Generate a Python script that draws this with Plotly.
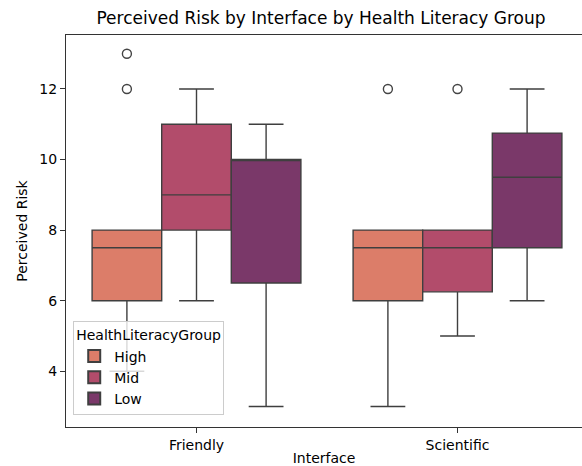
import plotly.graph_objects as go

# Perceived risk summary statistics by interface and health literacy group
interfaces = ["Friendly", "Scientific"]
groups = ["High", "Mid", "Low"]
colors = ["#DC7D69", "#B24C6B", "#7A3869"]

# per group: values for [Friendly, Scientific]
q1 = {"High": [6, 6], "Mid": [8, 6.25], "Low": [6.5, 7.5]}
median = {"High": [7.5, 7.5], "Mid": [9, 7.5], "Low": [10, 9.5]}
q3 = {"High": [8, 8], "Mid": [11, 8], "Low": [10, 10.75]}
lower_whisker = {"High": [4, 3], "Mid": [6, 5], "Low": [3, 6]}
upper_whisker = {"High": [8, 8], "Mid": [12, 8], "Low": [11, 12]}
outliers = {"High": [[12, 13], [12]], "Mid": [[], [12]], "Low": [[], []]}

y_ticks = [4, 6, 8, 10, 12]

group_width = 0.8
box_w = group_width / len(groups)
edge = "#3F3F3F"

fig = go.Figure()
for gi, g in enumerate(groups):
    pos = [ii + (gi - (len(groups) - 1) / 2) * box_w for ii in range(len(interfaces))]
    fig.add_trace(go.Box(
        x=pos, q1=q1[g], median=median[g], q3=q3[g],
        lowerfence=lower_whisker[g], upperfence=upper_whisker[g],
        width=box_w, whiskerwidth=0.5, name=g,
        fillcolor=colors[gi], line=dict(color=edge, width=1.4),
        boxpoints=False, hoverinfo="y",
    ))
    ox, oy = [], []
    for ii, vals in enumerate(outliers[g]):
        for v in vals:
            ox.append(pos[ii])
            oy.append(v)
    if ox:
        fig.add_trace(go.Scatter(
            x=ox, y=oy, mode="markers", showlegend=False,
            marker=dict(symbol="circle-open", size=9, color="#444444",
                        line=dict(width=1.4, color="#444444")),
        ))

font = "DejaVu Sans, sans-serif"
fig.update_layout(
    width=582, height=466,
    margin=dict(l=66, r=0, t=35, b=39),
    plot_bgcolor="white", paper_bgcolor="white",
    boxmode="overlay",
    font=dict(family=font, size=14, color="black"),
    title=dict(text="Perceived Risk by Interface by Health Literacy Group",
               x=321 / 582, xref="container", xanchor="center",
               y=1 - 18 / 466, yref="container", yanchor="middle",
               font=dict(family=font, size=17, color="black")),
    xaxis=dict(range=[-0.5, 1.477], tickmode="array",
               tickvals=list(range(len(interfaces))), ticktext=interfaces,
               showgrid=False, zeroline=False, showline=True, linecolor="#333333",
               linewidth=1.3, mirror=True, ticks="outside", ticklen=5,
               tickcolor="#333333", tickfont=dict(size=14),
               title=dict(text="Interface", font=dict(size=14), standoff=4)),
    yaxis=dict(range=[2.42, 13.53], tickmode="array", tickvals=y_ticks,
               showgrid=False, zeroline=False, showline=True, linecolor="#333333",
               linewidth=1.3, ticks="outside", ticklen=5, tickcolor="#333333",
               tickfont=dict(size=14),
               title=dict(text="Perceived Risk", font=dict(size=14), standoff=8)),
    legend=dict(title=dict(text="HealthLiteracyGroup", font=dict(size=14)),
                x=0.014, y=0.03, xanchor="left", yanchor="bottom",
                bgcolor="rgba(255,255,255,0.8)", bordercolor="#CCCCCC",
                borderwidth=1, font=dict(size=14), itemsizing="constant",
                tracegroupgap=2),
)

fig.write_html("out.html")
